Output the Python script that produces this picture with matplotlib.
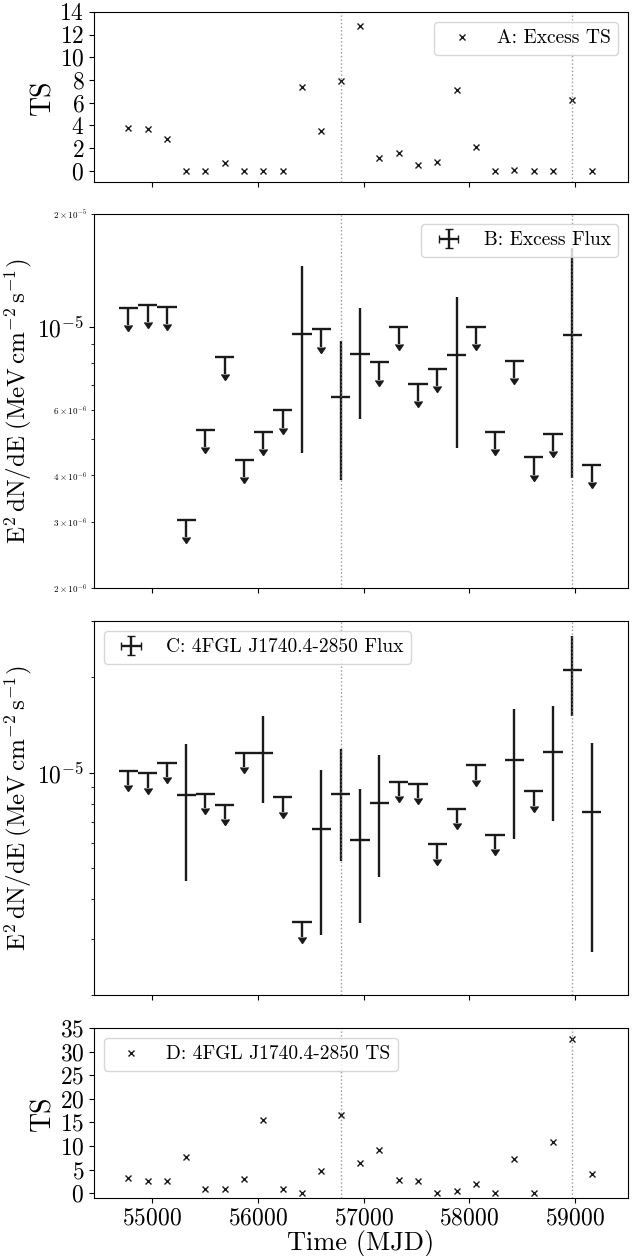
import numpy as np
import matplotlib
matplotlib.use("Agg")
import matplotlib.pyplot as plt

plt.rcParams["font.family"] = "serif"
plt.rcParams["font.serif"] = ["cmr10"]
plt.rcParams["mathtext.fontset"] = "cm"
plt.rcParams["axes.formatter.use_mathtext"] = True

# half-year bin centres (MJD)
mjd = [54774, 54957, 55139, 55322, 55504, 55687, 55870, 56052, 56235,
       56417, 56600, 56783, 56965, 57148, 57330, 57513, 57696, 57878,
       58061, 58243, 58426, 58609, 58791, 58974, 59156]
bin_half = 91.3
flare_mjd = [56783, 58974]

# A: excess TS
ts_excess = [3.8, 3.7, 2.8, 0.0, 0.0, 0.7, 0.0, 0.0, 0.0, 7.4, 3.5, 7.9,
             12.8, 1.1, 1.6, 0.5, 0.8, 7.1, 2.1, 0.0, 0.1, 0.0, 0.0, 6.2, 0.0]

# B: excess flux (value, lower, upper); upper limits carry no bounds
flux_excess = [1.12e-5, 1.14e-5, 1.13e-5, 3.05e-6, 5.28e-6, 8.28e-6, 4.39e-6,
               5.22e-6, 5.97e-6, 9.57e-6, 9.83e-6, 6.50e-6, 8.43e-6, 8.02e-6,
               9.97e-6, 7.01e-6, 7.72e-6, 8.38e-6, 1.00e-5, 5.22e-6, 8.11e-6,
               4.47e-6, 5.17e-6, 9.47e-6, 4.27e-6]
flux_excess_lo = [None, None, None, None, None, None, None, None, None, 4.59e-6,
                  None, 3.88e-6, 5.65e-6, None, None, None, None, 4.73e-6,
                  None, None, None, None, None, 3.94e-6, None]
flux_excess_hi = [None, None, None, None, None, None, None, None, None, 1.45e-5,
                  None, 9.13e-6, 1.12e-5, None, None, None, None, 1.20e-5,
                  None, None, None, None, None, 1.62e-5, None]

# C: 4FGL J1740.4-2850 flux
flux_src = [1.015e-5, 9.98e-6, 1.075e-5, 8.49e-6, 8.59e-6, 7.93e-6, 1.156e-5,
            1.156e-5, 8.38e-6, 3.39e-6, 6.67e-6, 8.55e-6, 6.16e-6, 8.05e-6,
            9.37e-6, 9.23e-6, 5.97e-6, 7.70e-6, 1.055e-5, 6.38e-6, 1.099e-5,
            8.76e-6, 1.164e-5, 2.10e-5, 7.54e-6]
flux_src_lo = [None, None, None, 4.57e-6, None, None, None, 8.01e-6, None, None,
               3.08e-6, 5.28e-6, 3.38e-6, 4.69e-6, None, None, None, None,
               None, None, 6.20e-6, None, 7.06e-6, 1.507e-5, 2.74e-6]
flux_src_hi = [None, None, None, 1.228e-5, None, None, None, 1.507e-5, None, None,
               1.017e-5, 1.19e-5, 8.86e-6, 1.134e-5, None, None, None, None,
               None, None, 1.586e-5, None, 1.62e-5, 2.69e-5, 1.243e-5]

# D: 4FGL J1740.4-2850 TS
ts_src = [3.2, 2.5, 2.5, 7.7, 0.8, 0.8, 3.0, 15.4, 0.8, 0.0, 4.8, 16.6, 6.4,
          9.1, 2.9, 2.5, 0.1, 0.4, 1.9, 0.0, 7.2, 0.1, 10.9, 32.6, 4.0]

ink = "#1a1a1a"
label_fs = 19
tick_fs = 17
legend_fs = 14

fig = plt.figure(figsize=(6.4, 12.56), dpi=100)
left, width = 0.1469, 0.8344
ax_a = fig.add_axes([left, 0.8551, width, 0.1354])
ax_b = fig.add_axes([left, 0.5318, width, 0.2978], sharex=ax_a)
ax_c = fig.add_axes([left, 0.2078, width, 0.2978], sharex=ax_a)
ax_d = fig.add_axes([left, 0.0462, width, 0.1354], sharex=ax_a)


def flux_panel(ax, val, lo, hi, label):
    val = np.array(val, dtype=float)
    ul = np.array([l is None for l in lo])
    lower = np.where(ul, 0.1 * val, [0 if l is None else v - l for v, l in zip(val, lo)])
    upper = np.where(ul, 0.0, [0 if h is None else h - v for v, h in zip(val, hi)])
    ax.errorbar(mjd, val, xerr=bin_half, yerr=[lower, upper], uplims=ul,
                fmt="none", ecolor=ink, elinewidth=1.7, color=ink, label=label)
    ax.set_yscale("log")
    ax.set_ylabel(r"$\mathrm{E^2\,dN/dE\;(MeV\,cm^{-2}\,s^{-1})}$",
                  fontsize=label_fs - 1, labelpad=2)


ax_a.plot(mjd, ts_excess, "x", color=ink, ms=5, mew=1.0, label="A: Excess TS")
ax_a.set_ylim(-1, 14)
ax_a.set_yticks(np.arange(0, 15, 2))
ax_a.set_ylabel("TS", fontsize=label_fs + 1, labelpad=2)
ax_a.legend(loc="upper right", fontsize=legend_fs)

flux_panel(ax_b, flux_excess, flux_excess_lo, flux_excess_hi, "B: Excess Flux")
ax_b.set_ylim(2e-6, 2e-5)
ax_b.legend(loc="upper right", fontsize=legend_fs)

flux_panel(ax_c, flux_src, flux_src_lo, flux_src_hi, "C: 4FGL J1740.4-2850 Flux")
ax_c.set_ylim(2e-6, 3e-5)
ax_c.legend(loc="upper left", fontsize=legend_fs)

ax_d.plot(mjd, ts_src, "x", color=ink, ms=5, mew=1.0, label="D: 4FGL J1740.4-2850 TS")
ax_d.set_ylim(-1, 35)
ax_d.set_yticks(np.arange(0, 36, 5))
ax_d.set_ylabel("TS", fontsize=label_fs + 1, labelpad=2)
ax_d.set_xlabel("Time (MJD)", fontsize=label_fs, labelpad=0)
ax_d.legend(loc="upper left", fontsize=legend_fs)

for ax in (ax_a, ax_b, ax_c, ax_d):
    for t in flare_mjd:
        ax.axvline(t, color="grey", ls=":", lw=1.0, alpha=0.8)
    ax.tick_params(which="major", labelsize=tick_fs)
    ax.tick_params(which="minor", labelsize=6.5)
for ax in (ax_a, ax_b, ax_c):
    ax.tick_params(labelbottom=False)

ax_d.set_xticks([55000, 56000, 57000, 58000, 59000])
ax_d.set_xlim(54450, 59500)

fig.savefig("out.png", dpi=100)
